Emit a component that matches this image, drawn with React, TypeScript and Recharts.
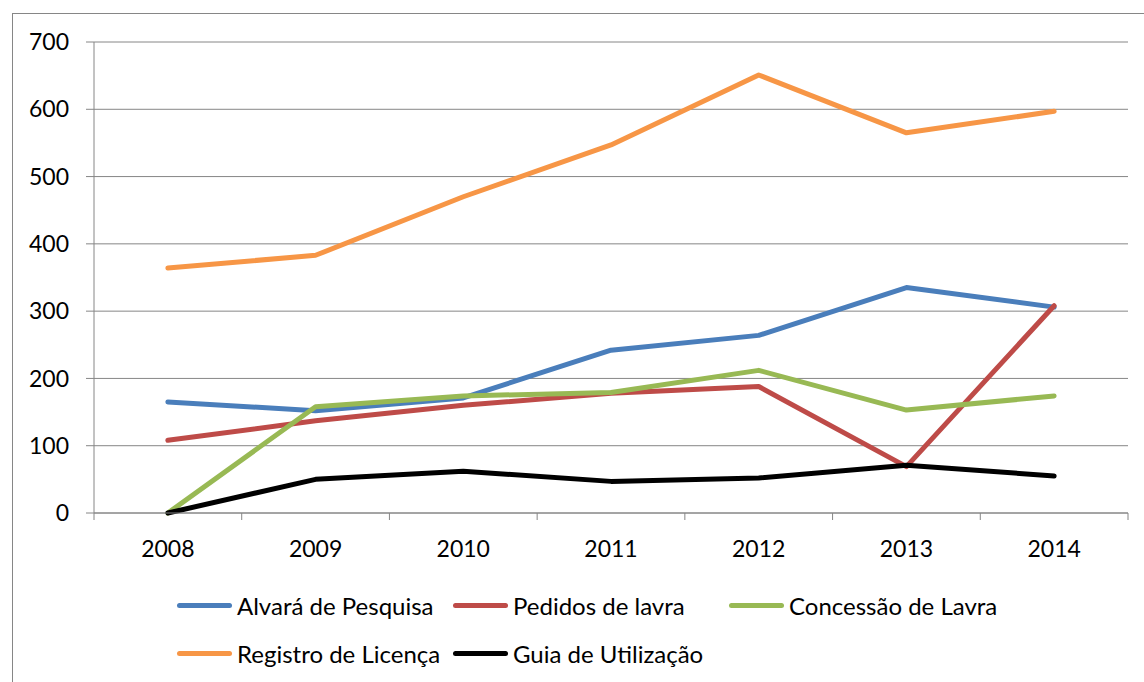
import { LineChart, Line, XAxis, YAxis, CartesianGrid } from 'recharts';

const years = [2008, 2009, 2010, 2011, 2012, 2013, 2014];
const alvara = [165, 152, 171, 242, 264, 335, 306];
const pedidos = [108, 137, 160, 178, 188, 69, 308];
const concessao = [0, 158, 174, 179, 212, 153, 174];
const registro = [364, 383, 470, 547, 651, 565, 597];
const guia = [0, 50, 62, 47, 52, 71, 55];
const yTicks = [0, 100, 200, 300, 400, 500, 600, 700];

const series = [
  { key: 'alvara', name: 'Alvará de Pesquisa', color: '#4A7EBB', values: alvara },
  { key: 'pedidos', name: 'Pedidos de lavra', color: '#BE4B48', values: pedidos },
  { key: 'concessao', name: 'Concessão de Lavra', color: '#98B954', values: concessao },
  { key: 'registro', name: 'Registro de Licença', color: '#F79646', values: registro },
  { key: 'guia', name: 'Guia de Utilização', color: '#000000', values: guia },
];

const data = years.map((year, i) => {
  const row: Record<string, number> = { year };
  series.forEach((s) => (row[s.key] = s.values[i]));
  return row;
});

// tick positions: category boundaries (x.5) get a tick mark, years get a label
const xTicks: number[] = [years[0] - 0.5];
years.forEach((y) => xTicks.push(y, y + 0.5));

const FONT = 'Lato, sans-serif';
const GRID = '#868686';

function XTick(props: any) {
  const { x, y, payload } = props;
  const v = payload.value;
  if (v % 1 !== 0) {
    return <line x1={x} x2={x} y1={y} y2={y + 7} stroke={GRID} strokeWidth={1} />;
  }
  return (
    <text x={x} y={y + 44} textAnchor="middle" fontSize={23} fontFamily={FONT} fill="#000">
      {v}
    </text>
  );
}

export default function App() {
  return (
    <div style={{ position: 'absolute', left: 0, top: 0, width: 1144, height: 682, background: '#fff' }}>
      <div
        style={{
          position: 'absolute',
          left: 12,
          top: 13,
          width: 1140,
          height: 680,
          borderLeft: `1px solid ${GRID}`,
          borderTop: `1px solid ${GRID}`,
        }}
      />
      <LineChart
        width={1144}
        height={682}
        data={data}
        margin={{ top: 42, right: 16, left: 14, bottom: 119 }}
        style={{ position: 'absolute', left: 0, top: 0 }}
      >
        <CartesianGrid horizontal={true} vertical={false} stroke={GRID} strokeWidth={1} />
        <XAxis
          dataKey="year"
          type="number"
          domain={[2007.5, 2014.5]}
          ticks={xTicks}
          interval={0}
          tickLine={false}
          tickSize={0}
          tickMargin={0}
          height={50}
          axisLine={{ stroke: GRID, strokeWidth: 1 }}
          tick={<XTick />}
        />
        <YAxis
          domain={[0, 700]}
          ticks={yTicks}
          interval={0}
          width={80}
          tickSize={8}
          tickMargin={17}
          axisLine={{ stroke: GRID, strokeWidth: 1 }}
          tickLine={{ stroke: GRID, strokeWidth: 1 }}
          tick={{ fontSize: 23, fontFamily: FONT, fill: '#000' }}
        />
        {series.map((s) => (
          <Line
            key={s.key}
            name={s.name}
            dataKey={s.key}
            type="linear"
            stroke={s.color}
            strokeWidth={5}
            strokeLinecap="round"
            strokeLinejoin="round"
            dot={false}
            activeDot={false}
            isAnimationActive={false}
          />
        ))}
      </LineChart>
      <div
        style={{
          position: 'absolute',
          left: 177,
          top: 587,
          display: 'grid',
          gridTemplateColumns: '276px 276px 276px',
          rowGap: 12,
          fontFamily: FONT,
          fontSize: 24,
          color: '#000',
        }}
      >
        {series.map((s) => (
          <div key={s.key} style={{ display: 'flex', alignItems: 'center', height: 36, whiteSpace: 'nowrap' }}>
            <span
              style={{
                display: 'inline-block',
                width: 55,
                height: 5,
                borderRadius: 3,
                background: s.color,
                marginRight: 5,
              }}
            />
            {s.name}
          </div>
        ))}
      </div>
    </div>
  );
}
